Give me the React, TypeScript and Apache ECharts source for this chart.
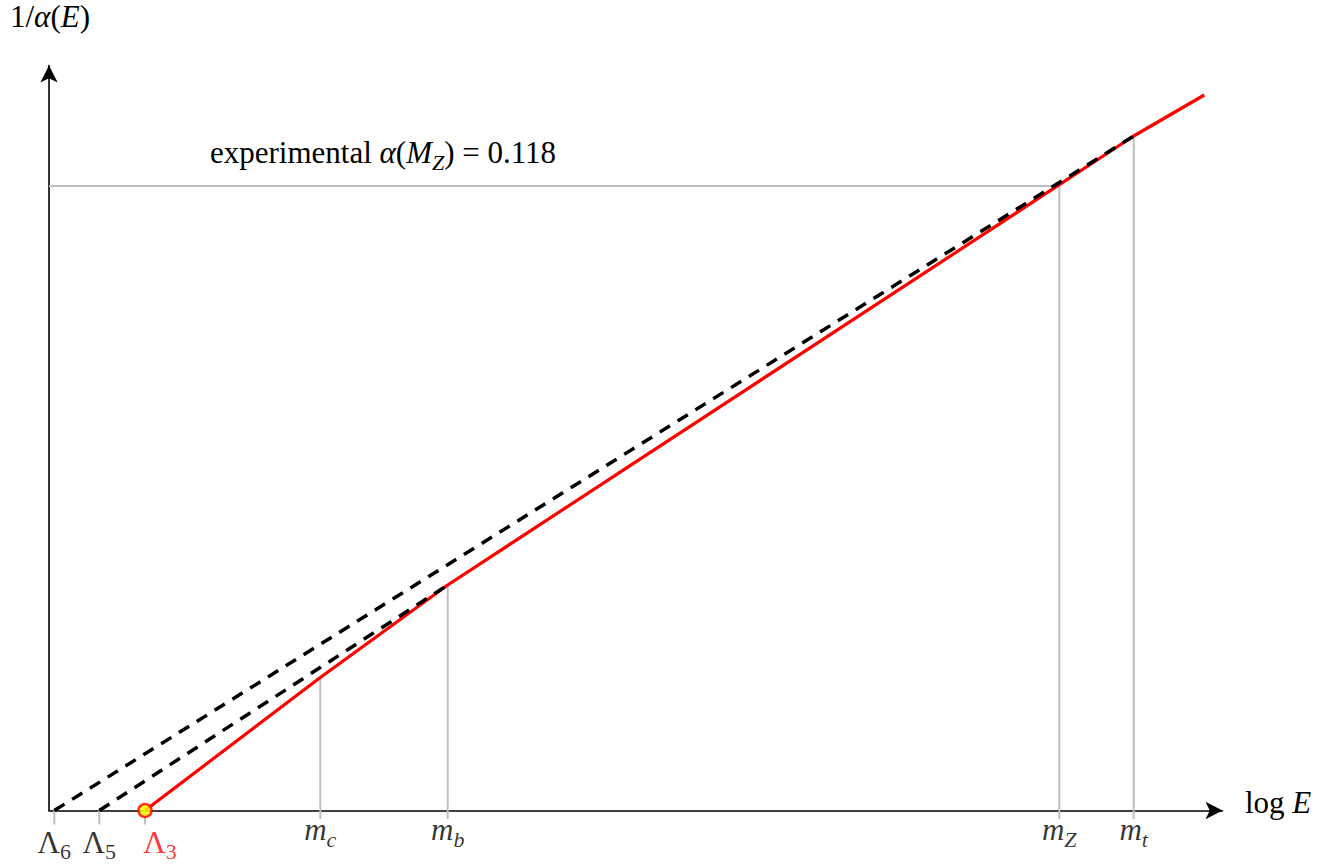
import React, { useEffect, useRef } from "react";
import * as echarts from "echarts";

// ---- data (arbitrary units: log E on x, 1/alpha on y) ----
const xAxisMax = 117.35;
const yAxisMax = 74.5;

const lambdaNames = ["6", "5", "3"]; // Λ_nf
const lambdaX = [0.53, 5.03, 9.6];

const massNames = ["c", "b", "Z", "t"];
const massX = [27.13, 39.87, 101.03, 108.47];
const massY = [13.3, 22.55, 62.45, 67.45];

// running coupling (red, piecewise)
const runX = [9.6, 27.13, 39.87, 108.47, 115.53];
const runY = [0, 13.3, 22.55, 67.45, 71.55];

// extrapolations back to Λ6 and Λ5 (dashed)
const extrap6X = [0.53, 108.47];
const extrap6Y = [0, 67.45];
const extrap5X = [5.03, 39.87];
const extrap5Y = [0, 22.55];

const alphaMZLevel = 62.45;

const FONT = "'Liberation Serif', 'DejaVu Serif', serif";
const GRAY = "#bfbfbf";
const RED = "#ff0000";

const rich = {
  up: { fontFamily: FONT, fontSize: 31, lineHeight: 41 },
  it: { fontFamily: FONT, fontSize: 31, fontStyle: "italic", lineHeight: 41 },
  subL: { fontFamily: FONT, fontSize: 22, lineHeight: 21, verticalAlign: "bottom" },
  subM: { fontFamily: FONT, fontSize: 22, fontStyle: "italic", lineHeight: 27, verticalAlign: "bottom" },
} as any;

function colored(color: string) {
  const r: any = {};
  Object.keys(rich).forEach((k) => {
    r[k] = { ...rich[k], color };
  });
  return r;
}

export default function App() {
  const ref = useRef<HTMLDivElement>(null);

  useEffect(() => {
    if (!ref.current) return;
    const chart = echarts.init(ref.current, undefined, { renderer: "svg" });

    const pair = (xs: number[], ys: number[]) => xs.map((x, i) => [x, ys[i]]);

    const grayVerticals = massX.map((x, i) => ({
      type: "line",
      data: [
        [x, -0.85],
        [x, massY[i]],
      ],
      symbol: "none",
      clip: false,
      silent: true,
      z: 1,
      lineStyle: { color: GRAY, width: 2 },
    }));
    const lambdaTicks = lambdaX.map((x) => ({
      type: "line",
      data: [
        [x, 0],
        [x, -1.4],
      ],
      symbol: "none",
      clip: false,
      silent: true,
      z: 1,
      lineStyle: { color: GRAY, width: 2 },
    }));

    const option: any = {
      animation: false,
      grid: { left: 49, right: 113.5, top: 65.5, bottom: 56.5 },
      xAxis: {
        type: "value",
        min: 0,
        max: xAxisMax,
        axisLine: {
          show: true,
          symbol: ["none", "arrow"],
          symbolSize: [13, 17],
          lineStyle: { color: "#000", width: 1.6 },
        },
        axisTick: { show: false },
        axisLabel: { show: false },
        splitLine: { show: false },
      },
      yAxis: {
        type: "value",
        min: 0,
        max: yAxisMax,
        axisLine: {
          show: true,
          symbol: ["none", "arrow"],
          symbolSize: [13, 17],
          lineStyle: { color: "#000", width: 1.6 },
        },
        axisTick: { show: false },
        axisLabel: { show: false },
        splitLine: { show: false },
      },
      series: [
        ...grayVerticals,
        ...lambdaTicks,
        {
          type: "line",
          data: [
            [0, alphaMZLevel],
            [massX[2], alphaMZLevel],
          ],
          symbol: "none",
          z: 1,
          lineStyle: { color: GRAY, width: 2 },
        },
        {
          type: "line",
          data: pair(runX, runY),
          symbol: "none",
          z: 2,
          lineStyle: { color: RED, width: 3.2 },
        },
        {
          type: "line",
          data: pair(extrap6X, extrap6Y),
          symbol: "none",
          z: 3,
          lineStyle: { color: "#000", width: 3.5, type: [12, 9] },
        },
        {
          type: "line",
          data: pair(extrap5X, extrap5Y),
          symbol: "none",
          z: 3,
          lineStyle: { color: "#000", width: 3.5, type: [12, 9] },
        },
        {
          type: "scatter",
          data: [[lambdaX[2], 0]],
          symbol: "circle",
          symbolSize: 13,
          z: 5,
          itemStyle: { color: "#ffff00", borderColor: RED, borderWidth: 2.5 },
        },
        // Λ labels
        {
          type: "scatter",
          symbolSize: 0,
          clip: false,
          z: 6,
          data: lambdaX.map((x, i) => ({
            value: [x, 0],
            name: lambdaNames[i],
            label:
              i === 2
                ? { color: RED, rich: colored(RED), offset: [15, 0] }
                : undefined,
          })),
          label: {
            show: true,
            position: "bottom",
            distance: 11,
            color: "#000",
            formatter: (p: any) => `{up|Λ}{subL|${p.name}}`,
            rich: colored("#000"),
          },
        },
        // mass labels
        {
          type: "scatter",
          symbolSize: 0,
          clip: false,
          z: 6,
          data: massX.map((x, i) => ({ value: [x, 0], name: massNames[i] })),
          label: {
            show: true,
            position: "bottom",
            distance: 0,
            offset: [0, -1.5],
            color: "#000",
            formatter: (p: any) => `{it|m}{subM|${p.name}}`,
            rich: colored("#000"),
          },
        },
      ],
      graphic: [
        {
          type: "text",
          left: 10,
          top: 1,
          style: {
            text: "{up|1/}{it|α}{up|(}{it|E}{up|)}",
            rich: colored("#000"),
          },
        },
        {
          type: "text",
          left: 1245,
          top: 786.7,
          style: {
            text: "{up|log }{it|E}",
            rich: colored("#000"),
          },
        },
        {
          type: "text",
          left: 210,
          top: 137,
          style: {
            text: "{up|experimental }{it|α}{up|(}{it|M}{subM|Z}{up|) = 0.118}",
            rich: colored("#000"),
          },
        },
      ],
    };

    chart.setOption(option);
    return () => chart.dispose();
  }, []);

  return (
    <div
      ref={ref}
      style={{ position: "fixed", left: 0, top: 0, width: 1336, height: 867, background: "#fff" }}
    />
  );
}
